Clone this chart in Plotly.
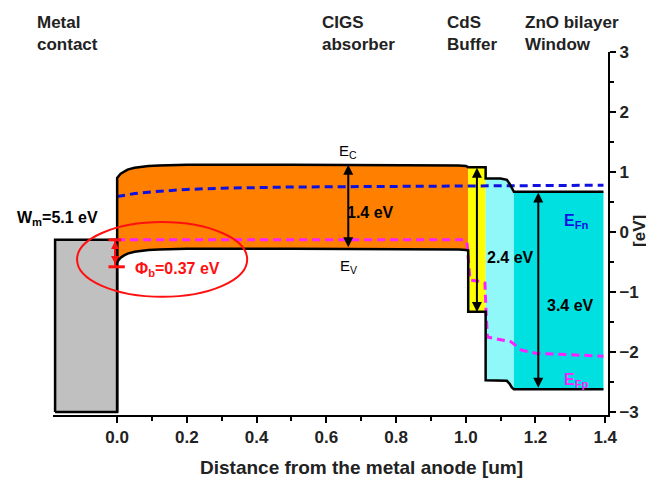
import plotly.graph_objects as go

# ---------------- data ----------------
# CIGS absorber (0 .. ~1.007 um)
x_cigs = [0.0, 0.01, 0.02, 0.03, 0.05, 0.07, 0.09, 0.12, 0.2, 0.5, 0.8, 0.95, 0.98, 1.0, 1.007]
ec_cigs = [0.90, 0.97, 1.01, 1.04, 1.07, 1.09, 1.10, 1.11, 1.12, 1.12, 1.12, 1.12, 1.11, 1.10, 1.09]
ev_cigs = [-0.50, -0.43, -0.39, -0.36, -0.33, -0.31, -0.30, -0.29, -0.28, -0.28, -0.28, -0.28, -0.29, -0.30, -0.31]

# CdS buffer
x_cds = [1.007, 1.057]
ec_cds = [1.08, 1.08]
ev_cds = [-1.33, -1.33]

# i-ZnO
x_izno = [1.057, 1.10, 1.118, 1.126, 1.132, 1.138]
ec_izno = [0.89, 0.89, 0.87, 0.80, 0.72, 0.67]
ev_izno = [-2.47, -2.47, -2.48, -2.53, -2.59, -2.62]

# doped ZnO
x_zno = [1.138, 1.395]
ec_zno = [0.67, 0.67]
ev_zno = [-2.62, -2.62]

# metal contact
x_metal = [-0.178, 0.0]
metal_top = -0.13
metal_bottom = -3.0

# quasi Fermi levels
x_efn = [0.0, 0.02, 0.05, 0.1, 0.2, 0.3, 0.5, 0.8, 1.0, 1.2, 1.395]
efn = [0.59, 0.61, 0.64, 0.67, 0.71, 0.73, 0.75, 0.76, 0.77, 0.78, 0.78]
x_efp = [0.0, 0.5, 0.998, 1.004, 1.008, 1.012, 1.05, 1.055, 1.058, 1.062, 1.13, 1.16, 1.2, 1.3, 1.395]
efp = [-0.13, -0.13, -0.13, -0.2, -0.5, -0.8, -0.83, -0.85, -1.3, -1.75, -1.83, -1.97, -2.02, -2.05, -2.07]

x_ticks = [0.0, 0.2, 0.4, 0.6, 0.8, 1.0, 1.2, 1.4]
y_ticks = [-3, -2, -1, 0, 1, 2, 3]

FONT = "Liberation Sans, Arial, sans-serif"

fig = go.Figure()


def band(xs, ec, ev, color):
    fig.add_trace(go.Scatter(
        x=xs + xs[::-1], y=ec + ev[::-1], fill="toself", fillcolor=color,
        mode="lines", line=dict(width=0), hoverinfo="skip", showlegend=False))


band(x_cigs, ec_cigs, ev_cigs, "#FF8000")
band(x_cds, ec_cds, ev_cds, "#FFFF00")
band(x_izno, ec_izno, ev_izno, "#90F8F8")
band(x_zno, ec_zno, ev_zno, "#00E0E0")

# metal box
fig.add_trace(go.Scatter(
    x=[x_metal[0], x_metal[1], x_metal[1], x_metal[0], x_metal[0]],
    y=[metal_bottom, metal_bottom, metal_top, metal_top, metal_bottom],
    fill="toself", fillcolor="#C0C0C0", mode="lines",
    line=dict(color="black", width=2.5), hoverinfo="skip", showlegend=False))

# quasi Fermi levels
fig.add_trace(go.Scatter(x=x_efn, y=efn, mode="lines",
                         line=dict(color="#1010E0", width=3, dash="8px,5px"),
                         hoverinfo="skip", showlegend=False))
fig.add_trace(go.Scatter(x=x_efp, y=efp, mode="lines",
                         line=dict(color="#FF20FF", width=3, dash="8px,5px"),
                         hoverinfo="skip", showlegend=False))

# Ec outline
ec_x = [0.0, 0.0] + x_cigs + x_cds + x_izno + x_zno
ec_y = [metal_bottom, ec_cigs[0]] + ec_cigs + ec_cds + ec_izno + ec_zno
fig.add_trace(go.Scatter(x=ec_x, y=ec_y, mode="lines",
                         line=dict(color="black", width=2.5),
                         hoverinfo="skip", showlegend=False))
# Ev outline
ev_x = x_cigs + x_cds + x_izno + x_zno
ev_y = ev_cigs + ev_cds + ev_izno + ev_zno
fig.add_trace(go.Scatter(x=ev_x, y=ev_y, mode="lines",
                         line=dict(color="black", width=2.5),
                         hoverinfo="skip", showlegend=False))

shapes = [
    dict(type="circle", xref="x", yref="y", x0=-0.115, x1=0.373, y0=-1.08, y1=0.165,
         line=dict(color="#FF1010", width=2)),
    dict(type="line", xref="x", yref="y", x0=-0.006, x1=-0.006, y0=-0.14, y1=-0.57,
         line=dict(color="#FF1010", width=2)),
    dict(type="line", xref="x", yref="y", x0=-0.025, x1=0.012, y0=-0.13, y1=-0.13,
         line=dict(color="#FF1010", width=3)),
    dict(type="line", xref="x", yref="y", x0=-0.025, x1=0.022, y0=-0.58, y1=-0.58,
         line=dict(color="#FF1010", width=3)),
]

bold = dict(family=FONT, size=16, color="black", weight="bold")


def arrow(x, y0, y1):
    return dict(x=x, y=y1, ax=x, ay=y0, xref="x", yref="y", axref="x", ayref="y",
                showarrow=True, arrowhead=2, arrowsize=1, arrowwidth=2,
                arrowside="end+start", arrowcolor="black", text="")


top = dict(family=FONT, size=17, color="#222", weight="bold")

annotations = [
    arrow(0.663, -0.28, 1.12),
    arrow(1.032, -1.36, 1.07),
    arrow(1.208, -2.62, 0.66),
    dict(x=-0.006, y=-0.15, ax=-0.006, ay=-0.56, xref="x", yref="y", axref="x", ayref="y",
         showarrow=True, arrowhead=2, arrowsize=0.8, arrowwidth=2, arrowside="end+start",
         arrowcolor="#FF1010", text=""),
    dict(x=-0.0324, y=1.112, xref="paper", yref="paper", text="Metal<br>contact",
         showarrow=False, xanchor="left", yanchor="top", align="left", font=top),
    dict(x=0.481, y=1.112, xref="paper", yref="paper", text="CIGS<br>absorber",
         showarrow=False, xanchor="left", yanchor="top", align="left", font=top),
    dict(x=0.706, y=1.112, xref="paper", yref="paper", text="CdS<br>Buffer",
         showarrow=False, xanchor="left", yanchor="top", align="left", font=top),
    dict(x=0.847, y=1.112, xref="paper", yref="paper", text="ZnO bilayer<br>Window",
         showarrow=False, xanchor="left", yanchor="top", align="left", font=top),
    dict(x=1.0577, y=0.507, xref="paper", yref="paper", text="[eV]", textangle=-90,
         xanchor="center", yanchor="middle", showarrow=False, font=top),
    dict(x=0.7, y=-0.146, xref="x", yref="paper", text="Distance from the metal anode [um]",
         xanchor="center", yanchor="middle", showarrow=False,
         font=dict(family=FONT, size=19, color="#222", weight="bold")),
    dict(x=-0.171, y=0.22, text="W<sub>m</sub>=5.1 eV", showarrow=False, font=bold),
    dict(x=0.172, y=-0.63, text="Φ<sub>b</sub>=0.37 eV", showarrow=False,
         font=dict(bold, color="#FF1010")),
    dict(x=0.663, y=1.35, text="E<sub>C</sub>", showarrow=False,
         font=dict(family=FONT, size=15, color="black")),
    dict(x=0.663, y=-0.57, text="E<sub>V</sub>", showarrow=False,
         font=dict(family=FONT, size=15, color="black")),
    dict(x=0.726, y=0.32, text="1.4 eV", showarrow=False, font=bold),
    dict(x=1.127, y=-0.43, text="2.4 eV", showarrow=False, font=bold),
    dict(x=1.30, y=-1.22, text="3.4 eV", showarrow=False, font=bold),
    dict(x=1.317, y=0.17, text="E<sub>Fn</sub>", showarrow=False,
         font=dict(bold, color="#1010E0")),
    dict(x=1.317, y=-2.47, text="E<sub>Fp</sub>", showarrow=False,
         font=dict(bold, color="#FF20FF")),
]

fig.update_layout(
    width=646, height=470,
    margin=dict(l=45, r=46, t=44, b=63, autoexpand=False),
    plot_bgcolor="white", paper_bgcolor="white",
    shapes=shapes, annotations=annotations,
    font=dict(family=FONT, color="black"),
    xaxis=dict(
        range=[-0.184, 1.408], showgrid=False, zeroline=False,
        showline=True, linecolor="black", linewidth=2,
        tickvals=x_ticks, ticktext=[f"{v:.1f}" for v in x_ticks],
        ticks="outside", ticklen=6, tickwidth=2, tickcolor="black",
        minor=dict(tickvals=[0.1, 0.3, 0.5, 0.7, 0.9, 1.1, 1.3], ticks="outside",
                   ticklen=4, tickwidth=2, tickcolor="black"),
        tickfont=dict(family=FONT, size=17, color="#222", weight="bold"),
        automargin=False,
    ),
    yaxis=dict(
        range=[-3.05, 3.0], side="right", showgrid=False, zeroline=False,
        showline=True, linecolor="black", linewidth=2,
        tickvals=y_ticks, ticks="outside", ticklen=6, tickwidth=2, tickcolor="black",
        minor=dict(dtick=0.5, tick0=0, ticks="outside", ticklen=4, tickwidth=2,
                   tickcolor="black"),
        tickfont=dict(family=FONT, size=17, color="#222", weight="bold"),
        automargin=False,
    ),
)

fig.write_html("out.html")
